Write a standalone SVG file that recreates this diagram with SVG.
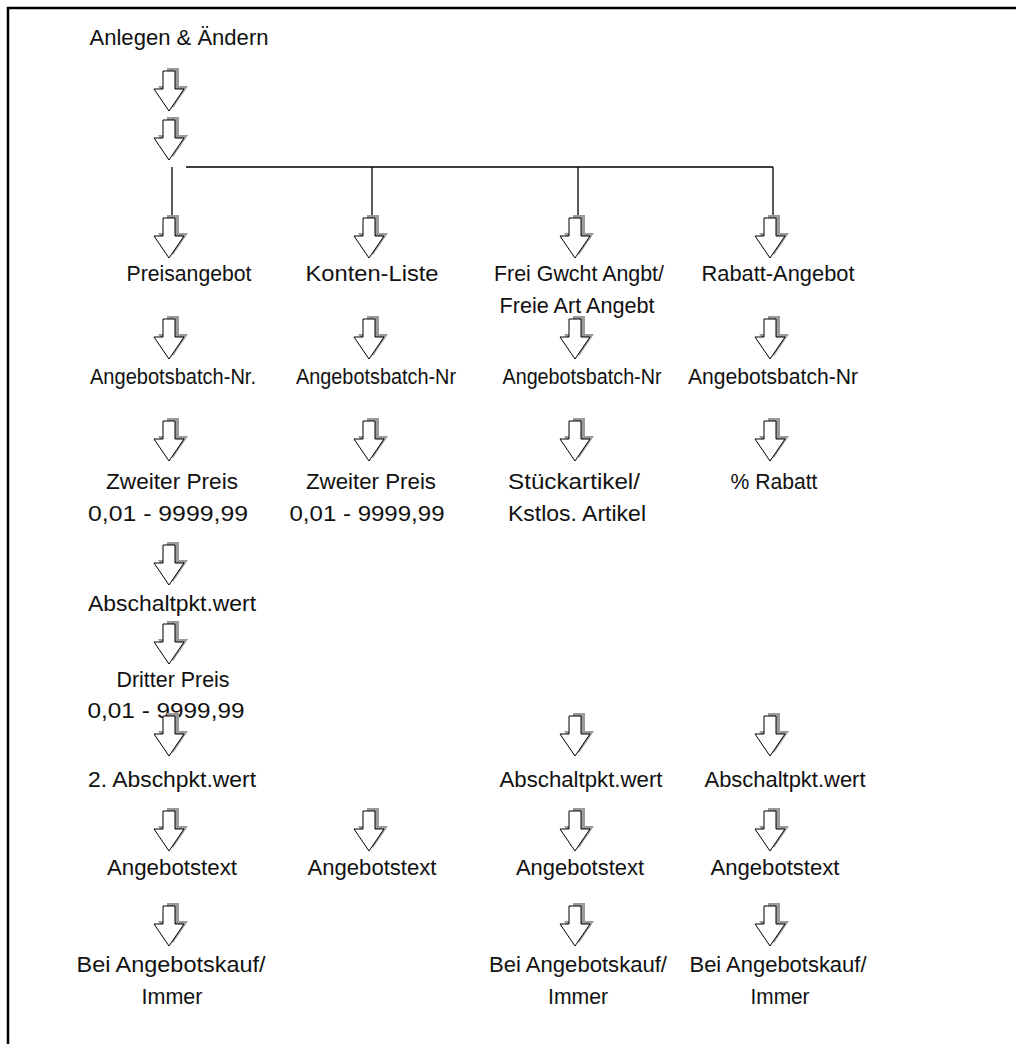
<svg xmlns="http://www.w3.org/2000/svg" xmlns:xlink="http://www.w3.org/1999/xlink" width="1016" height="1044" viewBox="0 0 1016 1044">
<style>
text{font-family:"Liberation Sans",Arial,sans-serif;font-size:21.5px;fill:#111;text-anchor:middle}
.ln{stroke:#000;stroke-width:1.3;fill:none}
.fr{stroke:#000;stroke-width:2.5;fill:none}
</style>
<defs>
<g id="arr">
<polygon points="-2,-3 10,-3 10,15 19,15 4,37 -11,15 -2,15" fill="#9a9a9a"/>
<polygon points="-6,0 6,0 6,18 15,18 0,40 -15,18 -6,18" fill="#fff" stroke="#000" stroke-width="1"/>
</g>
</defs>
<rect width="1016" height="1044" fill="#fff"/>
<path class="fr" d="M8,1044 V8 H1016"/>
<g id="connectors">
<path class="ln" d="M172,167 V219 M186,167 H773 M372,167 V219 M578,167 V219 M773,167 V219"/>
</g>
<g id="n-title"><text x="179" y="45" textLength="179" lengthAdjust="spacingAndGlyphs">Anlegen &amp; Ändern</text></g>
<g id="n-preisangebot"><text x="189" y="281" textLength="125" lengthAdjust="spacingAndGlyphs">Preisangebot</text></g>
<g id="n-konten"><text x="372" y="281" textLength="133" lengthAdjust="spacingAndGlyphs">Konten-Liste</text></g>
<g id="n-frei"><text x="579" y="281" textLength="170" lengthAdjust="spacingAndGlyphs">Frei Gwcht Angbt/</text><text x="577" y="313" textLength="155" lengthAdjust="spacingAndGlyphs">Freie Art Angebt</text></g>
<g id="n-rabatt"><text x="778" y="281" textLength="153" lengthAdjust="spacingAndGlyphs">Rabatt-Angebot</text></g>
<g id="n-batch1"><text x="173" y="384" textLength="166" lengthAdjust="spacingAndGlyphs">Angebotsbatch-Nr.</text></g>
<g id="n-batch2"><text x="376" y="384" textLength="160" lengthAdjust="spacingAndGlyphs">Angebotsbatch-Nr</text></g>
<g id="n-batch3"><text x="582" y="384" textLength="159" lengthAdjust="spacingAndGlyphs">Angebotsbatch-Nr</text></g>
<g id="n-batch4"><text x="773" y="384" textLength="170" lengthAdjust="spacingAndGlyphs">Angebotsbatch-Nr</text></g>
<g id="n-zweit1"><text x="172" y="489" textLength="132" lengthAdjust="spacingAndGlyphs">Zweiter Preis</text><text x="168" y="521" textLength="160" lengthAdjust="spacingAndGlyphs">0,01 - 9999,99</text></g>
<g id="n-zweit2"><text x="371" y="489" textLength="130" lengthAdjust="spacingAndGlyphs">Zweiter Preis</text><text x="367" y="521" textLength="155" lengthAdjust="spacingAndGlyphs">0,01 - 9999,99</text></g>
<g id="n-stueck"><text x="574" y="489" textLength="132" lengthAdjust="spacingAndGlyphs">Stückartikel/</text><text x="577" y="521" textLength="138" lengthAdjust="spacingAndGlyphs">Kstlos. Artikel</text></g>
<g id="n-prozent"><text x="774" y="489" textLength="87" lengthAdjust="spacingAndGlyphs">% Rabatt</text></g>
<g id="n-absch1"><text x="172" y="611" textLength="168" lengthAdjust="spacingAndGlyphs">Abschaltpkt.wert</text></g>
<g id="n-dritter"><text x="173" y="687" textLength="113" lengthAdjust="spacingAndGlyphs">Dritter Preis</text><text x="166" y="718" textLength="157" lengthAdjust="spacingAndGlyphs">0,01 - 9999,99</text></g>
<g id="n-absch2"><text x="172" y="787" textLength="168" lengthAdjust="spacingAndGlyphs">2. Abschpkt.wert</text></g>
<g id="n-absch3"><text x="581" y="787" textLength="163" lengthAdjust="spacingAndGlyphs">Abschaltpkt.wert</text></g>
<g id="n-absch4"><text x="785" y="787" textLength="161" lengthAdjust="spacingAndGlyphs">Abschaltpkt.wert</text></g>
<g id="n-text1"><text x="172" y="875" textLength="130" lengthAdjust="spacingAndGlyphs">Angebotstext</text></g>
<g id="n-text2"><text x="372" y="875" textLength="129" lengthAdjust="spacingAndGlyphs">Angebotstext</text></g>
<g id="n-text3"><text x="580" y="875" textLength="128" lengthAdjust="spacingAndGlyphs">Angebotstext</text></g>
<g id="n-text4"><text x="775" y="875" textLength="129" lengthAdjust="spacingAndGlyphs">Angebotstext</text></g>
<g id="n-bei1"><text x="171" y="972" textLength="189" lengthAdjust="spacingAndGlyphs">Bei Angebotskauf/</text><text x="172" y="1004" textLength="61" lengthAdjust="spacingAndGlyphs">Immer</text></g>
<g id="n-bei3"><text x="578" y="972" textLength="178" lengthAdjust="spacingAndGlyphs">Bei Angebotskauf/</text><text x="578" y="1004" textLength="60" lengthAdjust="spacingAndGlyphs">Immer</text></g>
<g id="n-bei4"><text x="778" y="972" textLength="177" lengthAdjust="spacingAndGlyphs">Bei Angebotskauf/</text><text x="780" y="1004" textLength="59" lengthAdjust="spacingAndGlyphs">Immer</text></g>
<g id="arrows">
<use xlink:href="#arr" x="169" y="71"/>
<use xlink:href="#arr" x="169" y="120"/>
<use xlink:href="#arr" x="169" y="218"/>
<use xlink:href="#arr" x="169" y="319"/>
<use xlink:href="#arr" x="169" y="421"/>
<use xlink:href="#arr" x="169" y="545"/>
<use xlink:href="#arr" x="169" y="624"/>
<use xlink:href="#arr" x="169" y="716"/>
<use xlink:href="#arr" x="169" y="811"/>
<use xlink:href="#arr" x="169" y="906"/>
<use xlink:href="#arr" x="369" y="218"/>
<use xlink:href="#arr" x="369" y="319"/>
<use xlink:href="#arr" x="369" y="421"/>
<use xlink:href="#arr" x="369" y="811"/>
<use xlink:href="#arr" x="575" y="218"/>
<use xlink:href="#arr" x="575" y="319"/>
<use xlink:href="#arr" x="575" y="421"/>
<use xlink:href="#arr" x="575" y="716"/>
<use xlink:href="#arr" x="575" y="811"/>
<use xlink:href="#arr" x="575" y="906"/>
<use xlink:href="#arr" x="770" y="218"/>
<use xlink:href="#arr" x="770" y="319"/>
<use xlink:href="#arr" x="770" y="421"/>
<use xlink:href="#arr" x="770" y="716"/>
<use xlink:href="#arr" x="770" y="811"/>
<use xlink:href="#arr" x="770" y="906"/>
</g>
</svg>
